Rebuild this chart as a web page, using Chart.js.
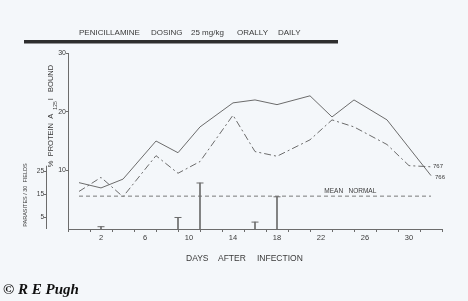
<!DOCTYPE html>
<html><head><meta charset="utf-8">
<script src="https://cdn.jsdelivr.net/npm/chart.js@4/dist/chart.umd.min.js"></script>
<style>html,body{margin:0;padding:0;background:#f4f7fa;}#wrap{width:468px;height:301px;position:relative}</style>
</head><body><div id="wrap"><canvas id="c" width="468" height="301"></canvas></div>
<script>
const days766 = [0, 2, 4, 7, 9, 11, 14, 16, 18, 21, 23, 25, 28, 32];
const values766 = [7.9, 7.0, 8.5, 15.0, 13.0, 17.4, 21.5, 22.0, 21.2, 22.7, 19.1, 22.0, 18.6, 9.1];
const days767 = [0, 2, 4, 7, 9, 11, 14, 16, 18, 21, 23, 25, 28, 30, 32];
const values767 = [6.4, 8.8, 5.5, 12.5, 9.5, 11.5, 19.4, 13.2, 12.4, 15.2, 18.6, 17.4, 14.4, 10.8, 10.6];
const meanNormal = 5.6;
const parasiteDays = [2, 9, 11, 16, 18];
const parasiteCounts = [1, 5, 20, 3, 14];
const seriesLabels = ['766', '767'];
const yTicks = [10, 20, 30];
const y2Ticks = [5, 15, 25];
const xLabelDays = [2, 6, 10, 14, 18, 22, 26, 30];
const titleWords = ['PENICILLAMINE', 'DOSING', '25 mg/kg', 'ORALLY', 'DAILY'];
const xTitleWords = ['DAYS', 'AFTER', 'INFECTION'];

const INK = '#6c6c6c';
const TXT = '#3a3a3a';
const FONT = "'Liberation Sans', Arial, sans-serif";

const toXY = (xs, ys) => xs.map((x, i) => ({x: x, y: ys[i]}));

const decor = {
  id: 'decor',
  beforeDraw(chart) {
    const ctx = chart.ctx;
    ctx.save();
    ctx.fillStyle = '#f4f7fa';
    ctx.fillRect(0, 0, chart.width, chart.height);
    ctx.restore();
  },
  afterDraw(chart) {
    const ctx = chart.ctx;
    const xs = chart.scales.x, ys = chart.scales.y, y2 = chart.scales.y2;
    ctx.save();
    // title bar
    ctx.fillStyle = '#2e2e2e';
    ctx.fillRect(24, 40, 314, 3.5);
    // title words
    ctx.fillStyle = TXT;
    ctx.font = '8px ' + FONT;
    ctx.textBaseline = 'middle';
    ctx.textAlign = 'left';
    const tx = [79, 151, 191, 237, 278];
    titleWords.forEach((w, i) => ctx.fillText(w, tx[i], 33));
    // x title
    const xt = [186, 218, 257];
    ctx.font = '8.5px ' + FONT;
    xTitleWords.forEach((w, i) => ctx.fillText(w, xt[i], 259));
    // y2 axis line (0..27.5)
    ctx.strokeStyle = INK;
    ctx.lineWidth = 1;
    ctx.beginPath();
    ctx.moveTo(y2.right + 0.5, y2.getPixelForValue(0));
    ctx.lineTo(y2.right + 0.5, y2.getPixelForValue(27.5));
    ctx.stroke();
    // main y title (rotated)
    ctx.save();
    ctx.translate(51, 116);
    ctx.rotate(-Math.PI / 2);
    ctx.textAlign = 'left';
    ctx.textBaseline = 'middle';
    const p1 = '%  PROTEIN  A  ', p2 = '125', p3 = 'I   BOUND';
    ctx.font = '7.5px ' + FONT; const w1 = ctx.measureText(p1).width;
    ctx.font = '5px ' + FONT; const w2 = ctx.measureText(p2).width;
    ctx.font = '7.5px ' + FONT; const w3 = ctx.measureText(p3).width;
    let sx = -(w1 + w2 + 1 + w3) / 2;
    ctx.fillText(p1, sx, 0); sx += w1;
    ctx.font = '5px ' + FONT; ctx.fillText(p2, sx, 4.5); sx += w2 + 1;
    ctx.font = '7.5px ' + FONT; ctx.fillText(p3, sx, 0);
    ctx.restore();
    // parasite title
    ctx.save();
    ctx.translate(25, 195);
    ctx.rotate(-Math.PI / 2);
    ctx.textAlign = 'center';
    ctx.textBaseline = 'middle';
    ctx.font = '5.5px ' + FONT;
    ctx.fillText('PARASITES / 30  FIELDS', 0, 0);
    ctx.restore();
    // mean normal label
    ctx.font = '6.5px ' + FONT;
    ctx.textAlign = 'left';
    ctx.fillText('MEAN   NORMAL', xs.getPixelForValue(22.3), ys.getPixelForValue(meanNormal) - 5);
    // series end labels
    ctx.font = '6px ' + FONT;
    const l767 = values767[values767.length - 1];
    const l766 = values766[values766.length - 1];
    ctx.fillText(seriesLabels[1], xs.getPixelForValue(32) + 2, ys.getPixelForValue(l767));
    ctx.fillText(seriesLabels[0], xs.getPixelForValue(32) + 4, ys.getPixelForValue(l766) + 1.5);
    // copyright
    ctx.fillStyle = '#111';
    ctx.font = "italic bold 15px 'Liberation Serif', serif";
    ctx.textBaseline = 'alphabetic';
    ctx.fillText('\u00A9 R E Pugh', 3, 294);
    ctx.restore();
  }
};

Chart.defaults.font.family = FONT;
Chart.defaults.font.size = 7;
Chart.defaults.color = TXT;

new Chart(document.getElementById('c'), {
  type: 'line',
  data: {
    datasets: [
      {label: seriesLabels[0], data: toXY(days766, values766), borderColor: INK, borderWidth: 1, pointRadius: 0, tension: 0, yAxisID: 'y'},
      {label: seriesLabels[1], data: toXY(days767, values767), borderColor: INK, borderWidth: 1, borderDash: [7, 3, 2, 3], pointRadius: 0, tension: 0, yAxisID: 'y'},
      {label: 'mean normal', data: [{x: 0, y: meanNormal}, {x: 32, y: meanNormal}], borderColor: INK, borderWidth: 0.9, borderDash: [4, 3], pointRadius: 0, yAxisID: 'y'},
      {type: 'bar', label: 'parasites', data: toXY(parasiteDays, parasiteCounts), backgroundColor: INK, barThickness: 1, yAxisID: 'y2'},
      {type: 'scatter', label: 'caps', data: toXY(parasiteDays, parasiteCounts), pointStyle: 'line', pointRadius: 3.5, borderColor: INK, borderWidth: 1, yAxisID: 'y2'}
    ]
  },
  options: {
    responsive: false,
    devicePixelRatio: 1,
    animation: false,
    layout: {padding: {left: 20, right: 26, top: 53, bottom: 58}},
    plugins: {legend: {display: false}, tooltip: {enabled: false}, title: {display: false}},
    scales: {
      x: {
        type: 'linear', min: 0, max: 32, position: 'bottom',
        ticks: {stepSize: 2, autoSkip: false, maxRotation: 0, padding: 1, font: {size: 7.5},
          callback: v => xLabelDays.includes(v) ? String(v) : ''},
        grid: {drawOnChartArea: false, tickLength: 3, color: INK},
        border: {color: INK},
        afterFit: s => { s.height = 14; }
      },
      y: {
        type: 'linear', min: 0, max: 30, position: 'left', weight: 0,
        afterBuildTicks: s => { s.ticks = yTicks.map(v => ({value: v})); },
        ticks: {padding: 0, font: {size: 7}},
        grid: {drawOnChartArea: false, tickLength: 2, color: INK},
        border: {color: INK},
        afterFit: s => { s.width = 22; }
      },
      y2: {
        type: 'linear', min: 0, max: 76.5, position: 'left', weight: 10,
        afterBuildTicks: s => { s.ticks = y2Ticks.map(v => ({value: v})); },
        ticks: {padding: 0, font: {size: 6.5}},
        grid: {drawOnChartArea: false, tickLength: 2, color: INK},
        border: {display: false},
        afterFit: s => { s.width = 26; }
      }
    }
  },
  plugins: [decor]
});
</script>
</body></html>
